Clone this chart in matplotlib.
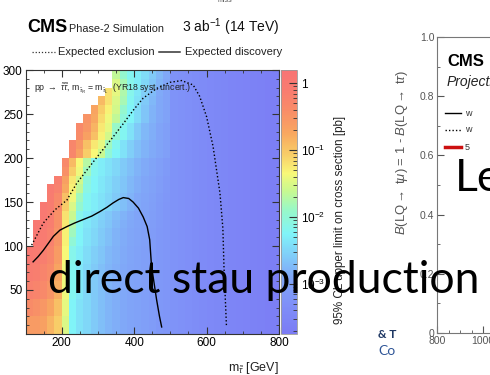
import numpy as np
import matplotlib
matplotlib.use("Agg")
import matplotlib.pyplot as plt
from matplotlib.colors import LogNorm, LinearSegmentedColormap
from matplotlib.ticker import (MultipleLocator, FixedLocator, FixedFormatter, LogLocator,
                               NullFormatter, FuncFormatter)

plt.rcParams["font.family"] = ["Liberation Sans", "DejaVu Sans"]
plt.rcParams["mathtext.fontset"] = "custom"
plt.rcParams["mathtext.rm"] = "Liberation Sans"
plt.rcParams["mathtext.it"] = "Liberation Sans:italic"
plt.rcParams["mathtext.bf"] = "Liberation Sans:bold"

nan = np.nan

# ---------------- data ----------------
# stau mass (x) cell edges and LSP mass (y) cell edges, GeV
stau_mass_edges = np.arange(100, 801, 20)
lsp_mass_edges = np.concatenate([np.arange(0, 100, 20), np.arange(100, 301, 10)])

# log10 of the 95% CL upper limit [pb] for stau masses 500-800 GeV
TAIL = [-3.25, -3.28, -3.32, -3.35, -3.4, -3.43, -3.46, -3.5, -3.52, -3.55, -3.58, -3.6, -3.62, -3.65, -3.67]
# log10 of the 95% CL upper limit [pb]; rows from low to high LSP mass,
# columns for stau masses 100-500 GeV, continued by TAIL
log_limit = [
    [-0.6, -0.6, -0.65, -0.85, -1.05, -1.5, -2.25, -2.4, -2.5, -2.6, -2.7, -2.78, -2.85, -2.9, -2.95, -3.0, -3.05, -3.1, -3.15, -3.2] + TAIL,
    [-0.4, -0.45, -0.55, -0.7, -0.95, -1.45, -2.25, -2.4, -2.5, -2.6, -2.7, -2.78, -2.85, -2.9, -2.95, -3.0, -3.05, -3.1, -3.15, -3.2] + TAIL,
    [-0.2, -0.25, -0.35, -0.5, -0.8, -1.4, -2.2, -2.35, -2.5, -2.6, -2.7, -2.78, -2.85, -2.9, -2.95, -3.0, -3.05, -3.1, -3.15, -3.2] + TAIL,
    [-0.1, -0.15, -0.25, -0.4, -0.7, -1.4, -2.2, -2.35, -2.5, -2.6, -2.7, -2.78, -2.85, -2.9, -2.95, -3.0, -3.05, -3.1, -3.15, -3.2] + TAIL,
    [0.0, -0.05, -0.15, -0.3, -0.6, -1.35, -2.15, -2.3, -2.45, -2.55, -2.65, -2.75, -2.82, -2.88, -2.94, -3.0, -3.05, -3.1, -3.15, -3.2] + TAIL,
    [nan, 0.05, -0.05, -0.2, -0.5, -1.3, -2.0, -2.25, -2.4, -2.5, -2.6, -2.7, -2.8, -2.86, -2.92, -2.98, -3.04, -3.1, -3.15, -3.2] + TAIL,
    [nan, 0.05, -0.05, -0.2, -0.5, -1.3, -1.85, -2.25, -2.4, -2.5, -2.6, -2.7, -2.8, -2.86, -2.92, -2.98, -3.04, -3.1, -3.15, -3.2] + TAIL,
    [nan, 0.05, 0.0, -0.15, -0.45, -1.25, -1.75, -2.2, -2.35, -2.45, -2.55, -2.65, -2.75, -2.83, -2.9, -2.96, -3.02, -3.08, -3.14, -3.2] + TAIL,
    [nan, nan, 0.0, -0.15, -0.45, -1.2, -1.6, -2.15, -2.3, -2.42, -2.52, -2.62, -2.72, -2.8, -2.88, -2.95, -3.0, -3.07, -3.13, -3.19] + TAIL,
    [nan, nan, 0.0, -0.1, -0.4, -1.05, -1.5, -1.95, -2.2, -2.3, -2.4, -2.5, -2.6, -2.7, -2.8, -2.9, -2.97, -3.05, -3.12, -3.18] + TAIL,
    [nan, nan, nan, -0.1, -0.35, -0.95, -1.4, -1.85, -2.2, -2.3, -2.4, -2.5, -2.6, -2.7, -2.8, -2.9, -2.96, -3.04, -3.11, -3.17] + TAIL,
    [nan, nan, nan, -0.05, -0.2, -0.75, -1.3, -1.65, -2.1, -2.25, -2.35, -2.45, -2.55, -2.65, -2.75, -2.85, -2.92, -3.0, -3.08, -3.15] + TAIL,
    [nan, nan, nan, nan, -0.15, -0.65, -1.25, -1.55, -2.05, -2.25, -2.35, -2.45, -2.55, -2.65, -2.75, -2.85, -2.92, -3.0, -3.08, -3.15] + TAIL,
    [nan, nan, nan, nan, nan, -0.45, -1.05, -1.4, -1.85, -2.2, -2.3, -2.4, -2.5, -2.6, -2.7, -2.8, -2.88, -2.95, -3.05, -3.12] + TAIL,
    [nan, nan, nan, nan, nan, -0.35, -0.9, -1.35, -1.7, -2.15, -2.3, -2.4, -2.5, -2.6, -2.7, -2.8, -2.88, -2.95, -3.05, -3.12] + TAIL,
    [nan, nan, nan, nan, nan, nan, -0.3, -0.65, -1.05, -1.35, -1.6, -2.0, -2.25, -2.4, -2.55, -2.7, -2.8, -2.88, -2.95, -3.05] + TAIL,
    [nan, nan, nan, nan, nan, nan, -0.3, -0.55, -0.95, -1.25, -1.45, -1.85, -2.2, -2.4, -2.55, -2.7, -2.8, -2.88, -2.95, -3.05] + TAIL,
    [nan, nan, nan, nan, nan, nan, nan, -0.4, -0.65, -0.95, -1.3, -1.55, -2.0, -2.2, -2.4, -2.6, -2.75, -2.85, -2.95, -3.05] + TAIL,
    [nan, nan, nan, nan, nan, nan, nan, -0.35, -0.55, -0.85, -1.25, -1.45, -1.9, -2.2, -2.4, -2.6, -2.75, -2.85, -2.95, -3.05] + TAIL,
    [nan, nan, nan, nan, nan, nan, nan, nan, -0.5, -0.75, -1.15, -1.4, -1.65, -2.05, -2.25, -2.45, -2.65, -2.8, -2.9, -3.0] + TAIL,
    [nan, nan, nan, nan, nan, nan, nan, nan, nan, -0.7, -1.05, -1.3, -1.55, -1.95, -2.25, -2.45, -2.65, -2.8, -2.9, -3.0] + TAIL,
    [nan, nan, nan, nan, nan, nan, nan, nan, nan, nan, -0.9, -1.2, -1.5, -1.8, -2.2, -2.4, -2.6, -2.75, -2.9, -3.0] + TAIL,
    [nan, nan, nan, nan, nan, nan, nan, nan, nan, nan, nan, -1.2, -1.45, -1.75, -2.15, -2.35, -2.55, -2.72, -2.88, -3.0] + TAIL,
    [nan, nan, nan, nan, nan, nan, nan, nan, nan, nan, nan, nan, -1.5, -1.8, -2.15, -2.3, -2.5, -2.65, -2.8, -2.92] + TAIL,
    [nan, nan, nan, nan, nan, nan, nan, nan, nan, nan, nan, nan, -1.65, -1.95, -2.2, -2.3, -2.45, -2.6, -2.75, -2.9] + TAIL,
]

# expected discovery contour (solid)
disc_stau = [121, 135, 149, 163, 177, 195, 214, 235, 259, 283, 305, 325, 342, 358, 370, 385, 397, 412, 425, 436, 443, 448, 455, 462, 470, 476]
disc_lsp = [82, 88, 95, 103, 111, 118, 122, 126, 130, 134, 139, 144, 149, 153, 155, 154, 150, 143, 133, 122, 107, 77, 58, 39, 20, 8]

# expected exclusion contour (dotted)
excl_stau = [117, 149, 181, 214, 241, 269, 305, 342, 370, 397, 425, 462, 499, 531, 563, 581, 600, 618, 637, 645, 648, 655]
excl_lsp = [101, 126, 141, 152, 171, 186, 205, 224, 239, 254, 268, 279, 286, 288, 283, 270, 247, 213, 160, 120, 77, 8]

cbar_ticks = [1.0, 1e-1, 1e-2, 1e-3]
cbar_ticklabels = ["1", r"$10^{-1}$", r"$10^{-2}$", r"$10^{-3}$"]
log_min, log_max = -3.75, 0.2

# palette anchored on log10(limit)
palette = [
    (-3.75, "#7b7bf4"), (-3.3, "#7f90f8"), (-2.9, "#80a8f8"), (-2.55, "#80d0f8"),
    (-2.25, "#80f4f8"), (-1.9, "#98f8c8"), (-1.6, "#c8f890"), (-1.35, "#f8f878"),
    (-1.05, "#f8cc68"), (-0.75, "#f8a860"), (-0.4, "#f88c68"), (-0.1, "#f87c70"),
    (0.2, "#f87474"),
]

# ---------------- figure ----------------
W, H = 490, 375
fig = plt.figure(figsize=(W / 100, H / 100), dpi=100)


def rect(x0, y0, x1, y1):
    return [x0 / W, 1 - y1 / H, (x1 - x0) / W, (y1 - y0) / H]


def fx(x):
    return x / W


def fy(y):
    return 1 - y / H


cmap = LinearSegmentedColormap.from_list(
    "limits", [((v - log_min) / (log_max - log_min), c) for v, c in palette])
norm = LogNorm(vmin=10 ** log_min, vmax=10 ** log_max)

ax = fig.add_axes(rect(25.5, 70, 279, 334))
limits = np.ma.masked_invalid(10 ** np.array(log_limit, dtype=float))
mesh = ax.pcolormesh(stau_mass_edges, lsp_mass_edges, limits, cmap=cmap, norm=norm, shading="flat")
ax.plot(excl_stau, excl_lsp, color="black", lw=1.0, ls=(0, (1, 1.6)))
ax.plot(disc_stau, disc_lsp, color="black", lw=1.0)
ax.set_xlim(100, 800)
ax.set_ylim(0, 300)
ax.xaxis.set_major_locator(MultipleLocator(200))
ax.xaxis.set_minor_locator(MultipleLocator(50))
ax.yaxis.set_major_locator(MultipleLocator(50))
ax.yaxis.set_minor_locator(MultipleLocator(10))
ax.tick_params(which="both", direction="in", top=True, right=True, labelsize=8.5, pad=2, color="#333333")
ax.tick_params(which="major", length=5)
ax.tick_params(which="minor", length=2.5)
ax.set_yticks([50, 100, 150, 200, 250, 300])
for s in ax.spines.values():
    s.set_linewidth(0.8)
    s.set_color("#333333")
ax.text(0.035, 0.93, r"pp $\rightarrow$ $\tilde{\tau}\tilde{\tau}$, m$_{\tilde{\tau}_{R}}$ = m$_{\tilde{\tau}_{L}}$  (YR18 syst. uncert.)",
        transform=ax.transAxes, fontsize=6.3, va="center", ha="left", color="#222222")

cax = fig.add_axes(rect(281, 70, 297, 334))
cb = fig.colorbar(mesh, cax=cax)
cb.outline.set_linewidth(0.6)
cb.outline.set_edgecolor("#999999")
cax.yaxis.set_major_locator(FixedLocator(cbar_ticks))
cax.yaxis.set_major_formatter(FixedFormatter(cbar_ticklabels))
cax.yaxis.set_minor_locator(LogLocator(base=10, subs=np.arange(2, 10)))
cax.yaxis.set_minor_formatter(NullFormatter())
cax.tick_params(which="both", direction="in", right=True, labelsize=8.5, pad=3, color="#333333")
cax.tick_params(which="major", length=6)
cax.tick_params(which="minor", length=3)

fig.text(fx(340), fy(220), "95% CL upper limit on cross section [pb]", rotation=90,
         ha="center", va="center", fontsize=8.4, color="#222222")
fig.text(fx(279), fy(368), r"m$_{\tilde{\tau}}$ [GeV]", ha="right", va="center", fontsize=9, color="#222222")

fig.text(fx(27), fy(32), "CMS", fontsize=13, fontweight="bold", ha="left", va="baseline")
fig.text(fx(69), fy(32), "Phase-2 Simulation", fontsize=7.8, ha="left", va="baseline", color="#222222")
fig.text(fx(280), fy(32), r"3 ab$^{-1}$ (14 TeV)", fontsize=10, ha="right", va="baseline", color="#111111")
fig.text(fx(225), fy(0), "miss", fontsize=5, ha="center", va="center", color="#555555")

legend_y = fy(52)
fig.add_artist(plt.Line2D([fx(32), fx(55)], [legend_y, legend_y], color="#333333", lw=0.9, ls=(0, (1, 1.5))))
fig.text(fx(58), legend_y, "Expected exclusion", fontsize=8, va="center", ha="left", color="#222222")
fig.add_artist(plt.Line2D([fx(159), fx(180)], [legend_y, legend_y], color="#333333", lw=1.1))
fig.text(fx(185), legend_y, "Expected discovery", fontsize=8, va="center", ha="left", color="#222222")

fig.text(fx(378), fy(335), "& T", fontsize=8.5, fontweight="bold", color="#1f3864", ha="left", va="center",
         family=["Lato", "DejaVu Sans"])
fig.text(fx(378), fy(351), "Co", fontsize=10, color="#2f5597", ha="left", va="center",
         family=["Lato", "DejaVu Sans"])

# neighbouring leptoquark panel
bg = fig.add_axes(rect(395, 0, 490, 375))
bg.set_facecolor("white")
bg.set_xticks([])
bg.set_yticks([])
for s in bg.spines.values():
    s.set_visible(False)

ax2 = fig.add_axes(rect(437, 37, 700, 333))
ax2.set_xlim(800, 1943)
ax2.set_ylim(0, 1)
ax2.xaxis.set_major_locator(MultipleLocator(200))
ax2.xaxis.set_minor_locator(MultipleLocator(50))
ax2.yaxis.set_major_locator(MultipleLocator(0.2))
ax2.yaxis.set_minor_locator(MultipleLocator(0.1))
ax2.xaxis.set_major_formatter(FuncFormatter(lambda v, p: f"{v:.0f}"))
ax2.yaxis.set_major_formatter(FuncFormatter(lambda v, p: "0" if v == 0 else ("1" if v == 1 else f"{v:.1f}")))
ax2.tick_params(which="both", direction="in", labelsize=7.5, colors="#555555", pad=2)
ax2.tick_params(which="major", length=5)
ax2.tick_params(which="minor", length=2.5)
for s in ax2.spines.values():
    s.set_color("#777777")
    s.set_linewidth(0.8)
fig.text(fx(402), fy(152), r"$B$(LQ$\rightarrow$ t$\mu$) = 1 - $B$(LQ$\rightarrow$ t$\tau$)", rotation=90,
         ha="center", va="center", fontsize=9.4, color="#555555")
fig.text(fx(447), fy(66), "CMS", fontsize=12, fontweight="bold", ha="left", va="baseline")
fig.text(fx(447), fy(86), "Projection", fontsize=10, style="italic", ha="left", va="baseline", color="#222222")
for yy, style, col, lw, lab in [(113, "-", "black", 1.0, "w"), (130, (0, (1, 1.5)), "black", 1.0, "w"),
                                (147, "-", "#cc1010", 2.5, "5")]:
    fig.add_artist(plt.Line2D([fx(445), fx(461)], [fy(yy), fy(yy)], color=col, lw=lw, ls=style))
    fig.text(fx(465), fy(yy), lab, fontsize=6.5, ha="left", va="center", color="#333333")

# slide captions
fig.text(fx(48), fy(293), "direct stau production", fontsize=32, ha="left", va="baseline",
         family=["Lato", "DejaVu Sans"], color="black")
fig.text(fx(455), fy(191), "Le", fontsize=32, ha="left", va="baseline",
         family=["Lato", "DejaVu Sans"], color="black")

fig.savefig("out.png", dpi=100)
